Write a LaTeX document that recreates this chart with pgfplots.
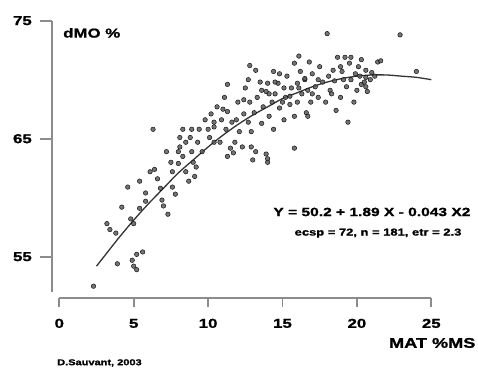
\documentclass[border=0pt]{standalone}
\usepackage{fontspec}
\setmainfont{Liberation Sans}[FakeStretch=1.3, BoldFeatures={FakeBold=1.2}]
\usepackage{pgfplots}
\pgfplotsset{compat=1.18}
\definecolor{axgray}{RGB}{140,140,140}
\definecolor{ptgray}{RGB}{90,90,90}
\begin{document}
\begin{tikzpicture}
\useasboundingbox (0,0) rectangle (478bp,369bp);
\begin{axis}[
  at={(44.42bp,65.1bp)}, anchor=south west,
  scale only axis, width=401.76bp, height=295bp,
  xmin=-1, xmax=26, ymin=51, ymax=76,
  clip=false,
  axis line style={draw=none},
  major tick length=0pt,
  xtick={0,5,10,15,20,25}, ytick={55,65,75},
  /pgf/number format/assume math mode=true,
  xticklabel style={anchor=center, yshift=-19.5bp, font=\bfseries\fontsize{13}{13}\selectfont},
  yticklabel style={anchor=center, xshift=-22bp, font=\bfseries\fontsize{13}{13}\selectfont},
]
% axis lines and ticks
\draw[axgray, line width=2.2pt] (axis cs:-0.51,75) -- (axis cs:-0.51,52.03);
\draw[axgray, line width=2.2pt] (axis cs:0,51.53) -- (axis cs:25,51.53);
\draw[axgray, line width=1.8pt] (axis cs:0,51.53) -- (axis cs:0,50.76);
\draw[axgray, line width=1.8pt] (axis cs:5,51.53) -- (axis cs:5,50.76);
\draw[axgray, line width=1.8pt] (axis cs:10,51.53) -- (axis cs:10,50.76);
\draw[axgray, line width=1.8pt] (axis cs:15,51.53) -- (axis cs:15,50.76);
\draw[axgray, line width=1.8pt] (axis cs:20,51.53) -- (axis cs:20,50.76);
\draw[axgray, line width=1.8pt] (axis cs:25,51.53) -- (axis cs:25,50.76);
\draw[axgray, line width=1.8pt] (axis cs:-0.51,55) -- (axis cs:-1.29,55);
\draw[axgray, line width=1.8pt] (axis cs:-0.51,65) -- (axis cs:-1.29,65);
\draw[axgray, line width=1.8pt] (axis cs:-0.51,75) -- (axis cs:-1.29,75);
% data
\addplot[only marks, mark=*, mark size=2.3pt, mark options={fill=ptgray, draw=none, fill opacity=0.85}] coordinates {
(2.3,52.5)(3.2,57.8)(3.4,57.3)(3.8,57.0)(3.9,54.4)(4.6,60.9)(4.8,58.2)(5.0,57.8)
(4.9,54.7)(5.2,55.2)(5.6,55.4)(5.0,54.2)(5.2,53.9)(5.4,59.1)(5.8,59.7)(5.8,60.4)
(6.3,65.8)(6.4,62.4)(6.6,61.6)(6.8,60.8)(6.9,59.8)(7.0,59.3)(7.3,58.6)(7.5,63.0)
(7.6,62.2)(7.6,60.9)(7.8,60.3)(8.0,63.9)(8.0,62.9)(8.1,64.3)(8.3,63.5)(8.3,65.8)
(8.5,64.7)(8.5,62.2)(8.7,61.4)(8.8,65.1)(8.9,63.9)(9.0,63.0)(9.1,61.8)(9.2,62.6)
(9.3,64.7)(9.4,65.8)(9.6,63.9)(9.8,66.6)(10.0,65.8)(10.1,65.1)(10.2,67.1)(10.4,66.0)
(10.6,67.7)(10.8,64.7)(10.9,66.6)(11.1,68.5)(11.2,65.8)(11.3,67.3)(11.5,64.2)(11.6,66.4)
(11.7,63.8)(11.8,64.7)(12.0,68.1)(12.1,65.6)(12.3,64.3)(12.4,67.1)(12.5,69.3)(12.7,66.4)
(12.8,68.1)(12.9,64.3)(13.0,63.2)(13.9,63.7)(14.0,63.0)(13.1,67.2)(13.3,68.5)(13.5,69.8)
(13.6,66.3)(13.7,67.7)(13.9,69.0)(14.1,66.9)(14.3,68.1)(14.4,65.8)(14.5,68.8)(14.7,69.7)
(14.8,67.6)(15.0,68.1)(15.1,66.6)(15.2,68.5)(15.3,70.3)(15.5,67.9)(15.6,69.3)(15.8,66.9)
(15.8,64.2)(16.0,69.7)(16.0,68.1)(16.2,70.7)(16.3,68.8)(16.5,70.0)(16.6,67.2)(16.7,69.1)
(16.9,68.1)(17.0,70.5)(17.2,69.4)(17.4,68.5)(17.5,71.1)(17.7,69.8)(17.9,68.1)(18.0,73.9)
(18.1,70.3)(18.2,69.1)(18.4,70.8)(18.5,69.9)(18.7,71.9)(18.9,68.5)(19.0,70.7)(19.2,71.9)
(19.3,69.4)(19.4,66.4)(19.5,71.4)(19.6,70.0)(19.8,68.1)(20.0,69.1)(20.1,71.1)(20.2,70.3)
(20.3,69.6)(20.5,69.8)(20.6,70.8)(20.7,69.0)(20.9,70.0)(21.0,70.6)(21.2,70.3)(21.4,71.5)
(22.9,73.8)(24.0,70.7)(13.2,70.8)(12.7,70.0)
(10.4,66.4)(11.0,67.5)(11.9,66.6)(13.6,69.1)(14.1,68.8)(14.5,69.8)(15.1,69.3)(15.5,68.6)
(16.1,69.3)(16.5,70.1)(17.0,68.8)(17.4,70.0)(18.3,68.8)(19.1,70.0)(19.9,70.5)(20.6,70.2)
(20.3,71.7)(18.9,71.1)(16.8,71.5)(15.8,71.4)(14.8,70.5)(14.0,69.7)(12.4,68.3)(8.9,65.8)
(7.2,63.9)(6.1,62.2)(5.4,61.4)(4.2,59.2)(8.1,65.1)(10.4,64.7)(11.3,63.5)(12.9,65.6)
(11.3,69.6)(16.1,72.0)(19.6,71.9)(21.6,71.6)(12.8,71.2)(14.4,70.7)(18.6,67.4)(16.7,66.9)
(14.0,63.3)(13.2,63.9)(20.6,69.4)
};
% fitted curve
\addplot[black!80, line width=1.3pt, smooth] coordinates {
(2.5,54.2)(3,55.0)(4,56.6)(5,58.1)(6,59.5)(7,60.8)(8,62.1)(9,63.2)(10,64.3)
(11,65.3)(12,66.2)(13,67.0)(14,67.7)(15,68.4)(16,68.9)(17,69.4)(18,69.8)
(19,70.1)(20,70.3)(21,70.4)(22,70.4)(23,70.3)(24,70.2)(25,70.0)
};
\node[anchor=west, inner sep=0pt, font=\bfseries\fontsize{13}{13}\selectfont] at (axis cs:0.25,73.96) {dMO \%};
\node[inner sep=0pt, font=\bfseries\fontsize{12}{12}\selectfont] at (axis cs:21.01,58.79) {Y = 50.2 + 1.89 X - 0.043 X2};
\node[inner sep=0pt, font=\bfseries\fontsize{10}{10}\selectfont] at (axis cs:21.42,57.0) {ecsp = 72, n = 181, etr = 2.3};
\node[anchor=west, inner sep=0pt, font=\bfseries\fontsize{14}{14}\selectfont] at (axis cs:22.15,47.69) {MAT \%MS};
\node[anchor=west, inner sep=0pt, font=\bfseries\fontsize{8.5}{8.5}\selectfont] at (axis cs:-0.15,46.0) {D.Sauvant, 2003};
\end{axis}
\end{tikzpicture}
\end{document}
